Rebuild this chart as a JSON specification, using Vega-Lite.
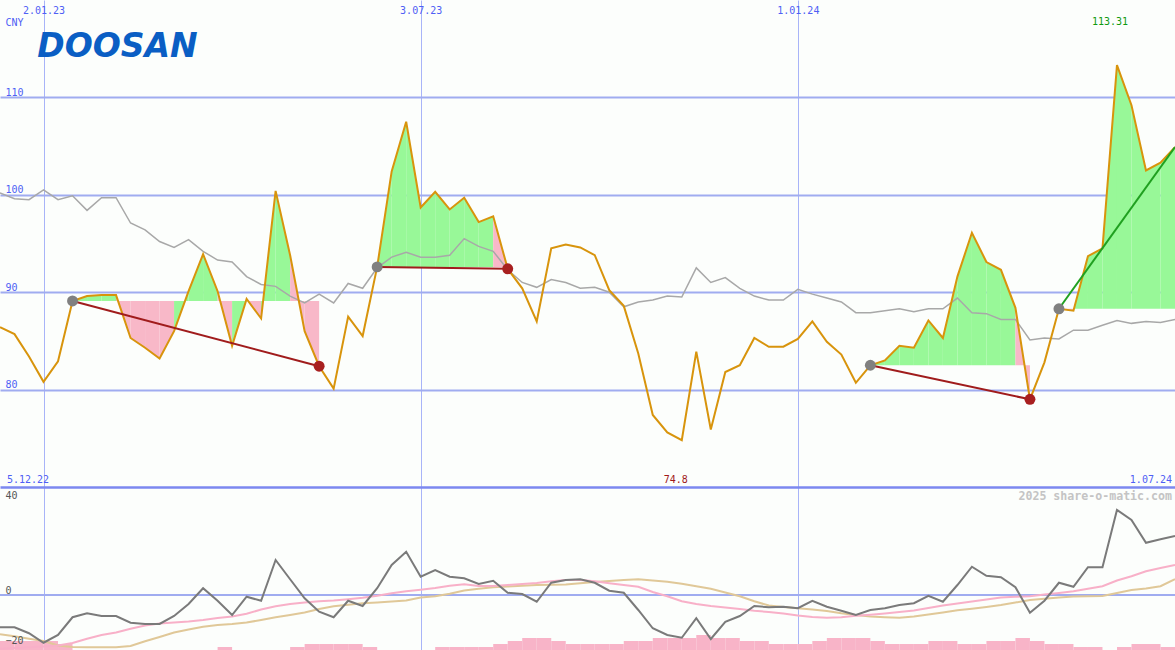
{
"$schema":"https://vega.github.io/schema/vega-lite/v6.json",
"padding":0,"spacing":0,"bounds":"flush","background":"#fcfefc",
"config":{"view":{"stroke":null}},
"data":{"format":{"parse":{"d":"date"}},"values":[
{"d":"2022-12-12","p":86.4,"m":100.2,"o":-12.9,"r":-21.5,"t":-15.7,"v":3},
{"d":"2022-12-19","p":85.7,"m":99.6,"o":-12.9,"r":-21.2,"t":-16.5,"v":3},
{"d":"2022-12-26","p":83.4,"m":99.5,"o":-15.3,"r":-20.9,"t":-17.5,"v":3},
{"d":"2023-01-02","p":80.8,"m":100.5,"o":-19.1,"r":-20.6,"t":-18.4,"v":3},
{"d":"2023-01-09","p":82.9,"m":99.5,"o":-16.0,"r":-20.2,"t":-20.2,"v":2},
{"d":"2023-01-16","p":89.1,"m":99.9,"o":-8.9,"r":-19.2,"t":-20.8,"v":0,"g":1,"b":89.1,"s":"start"},
{"d":"2023-01-23","p":89.6,"m":98.4,"o":-7.3,"r":-17.5,"t":-20.9,"v":0,"g":1,"b":89.1},
{"d":"2023-01-30","p":89.7,"m":99.7,"o":-8.4,"r":-16.0,"t":-20.9,"v":0,"g":1,"b":89.1},
{"d":"2023-02-06","p":89.7,"m":99.7,"o":-8.4,"r":-15.0,"t":-20.9,"v":0,"g":1,"b":89.1},
{"d":"2023-02-13","p":85.3,"m":97.1,"o":-11.1,"r":-13.5,"t":-20.4,"v":0,"g":1,"b":89.1},
{"d":"2023-02-20","p":84.3,"m":96.4,"o":-11.6,"r":-12.2,"t":-18.5,"v":0,"g":1,"b":89.1},
{"d":"2023-02-27","p":83.2,"m":95.2,"o":-11.6,"r":-11.4,"t":-16.8,"v":0,"g":1,"b":89.1},
{"d":"2023-03-06","p":86.0,"m":94.6,"o":-8.4,"r":-11.0,"t":-15.0,"v":0,"g":1,"b":89.1},
{"d":"2023-03-13","p":90.1,"m":95.4,"o":-3.6,"r":-10.6,"t":-13.8,"v":0,"g":1,"b":89.1},
{"d":"2023-03-20","p":93.9,"m":94.2,"o":2.7,"r":-10.0,"t":-12.7,"v":0,"g":1,"b":89.1},
{"d":"2023-03-27","p":90.1,"m":93.3,"o":-2.3,"r":-9.2,"t":-12.0,"v":1,"g":1,"b":89.1},
{"d":"2023-04-03","p":84.5,"m":93.1,"o":-8.0,"r":-8.6,"t":-11.6,"v":0,"g":1,"b":89.1},
{"d":"2023-04-10","p":89.3,"m":91.6,"o":-0.7,"r":-7.5,"t":-11.0,"v":0,"g":1,"b":89.1},
{"d":"2023-04-17","p":87.3,"m":90.8,"o":-2.3,"r":-5.8,"t":-10.0,"v":0,"g":1,"b":89.1},
{"d":"2023-04-24","p":100.4,"m":90.6,"o":14.0,"r":-4.5,"t":-8.9,"v":0,"g":1,"b":89.1},
{"d":"2023-05-01","p":93.8,"m":89.6,"o":6.3,"r":-3.6,"t":-8.0,"v":1,"g":1,"b":89.1},
{"d":"2023-05-08","p":86.0,"m":88.9,"o":-1.3,"r":-3.0,"t":-7.0,"v":2,"g":1,"b":89.1},
{"d":"2023-05-15","p":82.4,"m":89.8,"o":-6.7,"r":-2.5,"t":-5.6,"v":2,"g":1,"b":89.1,"s":"end"},
{"d":"2023-05-22","p":80.1,"m":88.9,"o":-8.9,"r":-2.2,"t":-4.5,"v":2},
{"d":"2023-05-29","p":87.5,"m":90.9,"o":-2.3,"r":-1.7,"t":-3.9,"v":2},
{"d":"2023-06-05","p":85.5,"m":90.4,"o":-4.4,"r":-1.1,"t":-3.3,"v":1},
{"d":"2023-06-12","p":92.6,"m":92.5,"o":2.7,"r":-0.3,"t":-3.0,"v":0,"g":2,"b":92.6,"s":"start"},
{"d":"2023-06-19","p":102.4,"m":93.6,"o":12.0,"r":0.7,"t":-2.6,"v":0,"g":2,"b":92.6},
{"d":"2023-06-26","p":107.5,"m":94.1,"o":17.3,"r":1.5,"t":-2.2,"v":0,"g":2,"b":92.6},
{"d":"2023-07-03","p":98.7,"m":93.6,"o":7.3,"r":2.1,"t":-1.0,"v":0,"g":2,"b":92.6},
{"d":"2023-07-10","p":100.3,"m":93.6,"o":10.0,"r":2.8,"t":-0.5,"v":1,"g":2,"b":92.6},
{"d":"2023-07-17","p":98.5,"m":93.8,"o":7.3,"r":3.7,"t":0.5,"v":1,"g":2,"b":92.6},
{"d":"2023-07-24","p":99.7,"m":95.5,"o":6.7,"r":4.3,"t":1.8,"v":1,"g":2,"b":92.6},
{"d":"2023-07-31","p":97.2,"m":94.7,"o":4.4,"r":3.6,"t":2.5,"v":1,"g":2,"b":92.6},
{"d":"2023-08-07","p":97.8,"m":94.2,"o":5.7,"r":3.6,"t":3.1,"v":2,"g":2,"b":92.6},
{"d":"2023-08-14","p":92.4,"m":92.3,"o":0.9,"r":4.0,"t":3.4,"v":3,"g":2,"b":92.6,"s":"end"},
{"d":"2023-08-21","p":90.4,"m":91.0,"o":0.4,"r":4.4,"t":3.7,"v":4},
{"d":"2023-08-28","p":87.0,"m":90.5,"o":-2.7,"r":4.8,"t":4.0,"v":4},
{"d":"2023-09-04","p":94.5,"m":91.3,"o":4.9,"r":5.5,"t":4.1,"v":3},
{"d":"2023-09-11","p":94.9,"m":91.0,"o":6.0,"r":6.0,"t":4.2,"v":2},
{"d":"2023-09-18","p":94.6,"m":90.4,"o":6.3,"r":6.0,"t":4.7,"v":2},
{"d":"2023-09-25","p":93.8,"m":90.5,"o":4.9,"r":5.5,"t":5.2,"v":2},
{"d":"2023-10-02","p":90.2,"m":90.0,"o":1.7,"r":4.7,"t":5.6,"v":2},
{"d":"2023-10-09","p":88.6,"m":88.5,"o":0.9,"r":4.0,"t":6.0,"v":3},
{"d":"2023-10-16","p":83.7,"m":89.0,"o":-6.0,"r":3.3,"t":6.3,"v":3},
{"d":"2023-10-23","p":77.4,"m":89.2,"o":-13.3,"r":1.2,"t":5.8,"v":4},
{"d":"2023-10-30","p":75.6,"m":89.6,"o":-16.0,"r":-0.5,"t":5.3,"v":4},
{"d":"2023-11-06","p":74.8,"m":89.5,"o":-17.1,"r":-2.5,"t":4.5,"v":4},
{"d":"2023-11-13","p":83.9,"m":92.5,"o":-9.3,"r":-3.6,"t":3.5,"v":5},
{"d":"2023-11-20","p":75.9,"m":91.0,"o":-17.6,"r":-4.4,"t":2.5,"v":4},
{"d":"2023-11-27","p":81.8,"m":91.5,"o":-10.7,"r":-5.0,"t":1.0,"v":4},
{"d":"2023-12-04","p":82.5,"m":90.4,"o":-8.4,"r":-5.6,"t":-0.5,"v":3},
{"d":"2023-12-11","p":85.3,"m":89.6,"o":-4.4,"r":-6.3,"t":-2.5,"v":3},
{"d":"2023-12-18","p":84.4,"m":89.2,"o":-4.9,"r":-6.8,"t":-4.2,"v":2},
{"d":"2023-12-25","p":84.4,"m":89.2,"o":-4.7,"r":-7.4,"t":-4.8,"v":2},
{"d":"2024-01-01","p":85.2,"m":90.3,"o":-5.3,"r":-8.2,"t":-5.3,"v":2},
{"d":"2024-01-08","p":87.0,"m":89.8,"o":-2.3,"r":-8.8,"t":-5.8,"v":3},
{"d":"2024-01-15","p":84.9,"m":89.4,"o":-4.7,"r":-9.1,"t":-6.4,"v":4},
{"d":"2024-01-22","p":83.6,"m":89.0,"o":-6.3,"r":-8.9,"t":-7.3,"v":4},
{"d":"2024-01-29","p":80.7,"m":87.9,"o":-8.0,"r":-8.3,"t":-8.0,"v":4},
{"d":"2024-02-05","p":82.5,"m":87.9,"o":-6.0,"r":-7.9,"t":-8.6,"v":3,"g":3,"b":82.5,"s":"start"},
{"d":"2024-02-12","p":83.0,"m":88.1,"o":-5.3,"r":-7.4,"t":-8.9,"v":2,"g":3,"b":82.5},
{"d":"2024-02-19","p":84.5,"m":88.3,"o":-4.0,"r":-6.8,"t":-9.1,"v":2,"g":3,"b":82.5},
{"d":"2024-02-26","p":84.3,"m":88.0,"o":-3.3,"r":-6.2,"t":-8.6,"v":2,"g":3,"b":82.5},
{"d":"2024-03-04","p":87.1,"m":88.3,"o":-0.3,"r":-5.2,"t":-7.8,"v":3,"g":3,"b":82.5},
{"d":"2024-03-11","p":85.3,"m":88.3,"o":-2.7,"r":-4.2,"t":-7.0,"v":3,"g":3,"b":82.5},
{"d":"2024-03-18","p":91.6,"m":89.4,"o":4.0,"r":-3.4,"t":-6.1,"v":2,"g":3,"b":82.5},
{"d":"2024-03-25","p":96.1,"m":87.9,"o":11.3,"r":-2.6,"t":-5.5,"v":2,"g":3,"b":82.5},
{"d":"2024-04-01","p":93.1,"m":87.8,"o":7.7,"r":-1.8,"t":-4.8,"v":3,"g":3,"b":82.5},
{"d":"2024-04-08","p":92.3,"m":87.2,"o":7.1,"r":-1.0,"t":-4.0,"v":3,"g":3,"b":82.5},
{"d":"2024-04-15","p":88.4,"m":87.2,"o":3.1,"r":-0.7,"t":-3.0,"v":4,"g":3,"b":82.5},
{"d":"2024-04-22","p":79.0,"m":85.1,"o":-7.1,"r":-0.5,"t":-2.0,"v":3,"g":3,"b":82.5,"s":"end"},
{"d":"2024-04-29","p":82.8,"m":85.3,"o":-2.3,"r":0.2,"t":-1.5,"v":2},
{"d":"2024-05-06","p":88.3,"m":85.2,"o":4.9,"r":0.8,"t":-1.0,"v":2,"g":4,"b":88.3,"s":"start"},
{"d":"2024-05-13","p":88.1,"m":86.1,"o":3.3,"r":1.5,"t":-0.6,"v":1,"g":4,"b":88.3},
{"d":"2024-05-20","p":93.7,"m":86.1,"o":11.1,"r":2.5,"t":-0.5,"v":1,"g":4,"b":88.3},
{"d":"2024-05-27","p":94.5,"m":86.6,"o":11.1,"r":3.5,"t":-0.4,"v":0,"g":4,"b":88.3},
{"d":"2024-06-03","p":113.31,"m":87.1,"o":34.0,"r":5.8,"t":0.8,"v":1,"g":4,"b":88.3},
{"d":"2024-06-10","p":109.2,"m":86.8,"o":30.0,"r":7.5,"t":2.0,"v":2,"g":4,"b":88.3},
{"d":"2024-06-17","p":102.5,"m":87.0,"o":20.9,"r":9.5,"t":2.6,"v":2,"g":4,"b":88.3},
{"d":"2024-06-24","p":103.3,"m":86.9,"o":22.3,"r":10.8,"t":3.5,"v":1,"g":4,"b":88.3},
{"d":"2024-07-01","p":104.9,"m":87.2,"o":23.6,"r":12.0,"t":6.3,"v":0,"g":4,"b":88.3,"s":"last"}
]},
"vconcat":[
{"width":1175,"height":487,
 "layer":[
  {"transform":[
    {"window":[{"op":"lag","field":"d","as":"d0"},{"op":"lag","field":"p","as":"p0"}],"sort":[{"field":"d"}]},
    {"filter":"isValid(datum.g) && datum.s !== 'start'"},
    {"fold":["d0","d"],"as":["kd","fx"]},
    {"fold":["p0","p"],"as":["kp","fy"]},
    {"filter":"(datum.kd === 'd0') === (datum.kp === 'p0')"}
   ],
   "mark":{"type":"area","clip":true,"opacity":1},
   "encoding":{
    "x":{"field":"fx","type":"temporal","title":null,
     "scale":{"type":"utc","domain":[{"year":2022,"month":12,"date":12,"utc":true},{"year":2024,"month":7,"date":1,"utc":true}]},
     "axis":{"orient":"top","title":null,"values":[{"year":2023,"month":1,"date":2,"utc":true},{"year":2023,"month":7,"date":3,"utc":true},{"year":2024,"month":1,"date":1,"utc":true}],"format":"%-d.%m.%y","grid":true,"gridColor":"#a8b4f8","gridWidth":1,"ticks":false,"tickSize":0,"domain":false,"labelPadding":-15,"labelBaseline":"bottom","labelColor":"#4f5ff5","labelFont":"DejaVu Sans Mono","labelFontSize":10,"labelOverlap":false,"labelFlush":false}},
    "y":{"field":"fy","type":"quantitative","title":"CNY",
     "scale":{"domain":[70,120],"zero":false,"nice":false},
     "axis":{"values":[80,90,100,110],"grid":true,"gridColor":"#a0acf0","gridWidth":2,"ticks":false,"tickSize":0,"domain":false,"labelAlign":"left","labelPadding":-5,"labelBaseline":"bottom","labelColor":"#4f5ff5","labelFont":"DejaVu Sans Mono","labelFontSize":10,"title":"CNY","titleAngle":0,"titleAlign":"left","titleBaseline":"bottom","titleX":5,"titleY":27,"titleColor":"#4f5ff5","titleFont":"DejaVu Sans Mono","titleFontSize":10,"titleFontWeight":"normal"}},
    "y2":{"field":"b"},
    "detail":{"field":"d","type":"temporal"},
    "color":{"condition":{"test":"datum.p >= datum.b","value":"#98f898"},"value":"#f8b8c8"}
   }},
  {"mark":{"type":"line","clip":true,"color":"#a8a8a8","strokeWidth":1.5},
   "encoding":{"x":{"field":"d","type":"temporal"},"y":{"field":"m","type":"quantitative"}}},
  {"mark":{"type":"line","clip":true,"color":"#d8940c","strokeWidth":2},
   "encoding":{"x":{"field":"d","type":"temporal"},"y":{"field":"p","type":"quantitative"}}},
  {"transform":[{"filter":"isValid(datum.s)"}],
   "mark":{"type":"line","clip":true,"strokeWidth":2},
   "encoding":{"x":{"field":"d","type":"temporal"},"y":{"field":"p","type":"quantitative"},"detail":{"field":"g","type":"nominal"},
    "color":{"condition":{"test":"datum.g === 4","value":"#20a020"},"value":"#a01c1c"}}},
  {"transform":[{"filter":"datum.s === 'start' || datum.s === 'end'"}],
   "mark":{"type":"circle","opacity":1,"size":120},
   "encoding":{"x":{"field":"d","type":"temporal"},"y":{"field":"p","type":"quantitative"},
    "color":{"condition":{"test":"datum.s === 'start'","value":"#808080"},"value":"#a82020"}}},
  {"transform":[{"joinaggregate":[{"op":"max","field":"p","as":"pm"}]},{"filter":"datum.p === datum.pm"}],
   "mark":{"type":"text","align":"center","baseline":"alphabetic","dx":-7,"font":"DejaVu Sans Mono","fontSize":10,"color":"#109a10"},
   "encoding":{"x":{"field":"d","type":"temporal"},"y":{"datum":117.4,"type":"quantitative"},"text":{"field":"p","type":"quantitative"}}},
  {"transform":[{"joinaggregate":[{"op":"min","field":"p","as":"pn"}]},{"filter":"datum.p === datum.pn"}],
   "mark":{"type":"text","align":"center","baseline":"alphabetic","dx":-6,"dy":-4.5,"font":"DejaVu Sans Mono","fontSize":10,"color":"#a01818"},
   "encoding":{"x":{"field":"d","type":"temporal"},"y":{"datum":70,"type":"quantitative"},"text":{"field":"p","type":"quantitative"}}},
  {"data":{"values":[{}]},
   "mark":{"type":"text","align":"left","baseline":"alphabetic","dx":7,"dy":-4.5,"font":"DejaVu Sans Mono","fontSize":10,"color":"#4f5ff5"},
   "encoding":{"x":{"datum":{"year":2022,"month":12,"date":12,"utc":true},"type":"temporal"},"y":{"datum":70,"type":"quantitative"},"text":{"value":"5.12.22"}}},
  {"data":{"values":[{}]},
   "mark":{"type":"text","align":"right","baseline":"alphabetic","dx":-3,"dy":-4.5,"font":"DejaVu Sans Mono","fontSize":10,"color":"#4f5ff5"},
   "encoding":{"x":{"datum":{"year":2024,"month":7,"date":1,"utc":true},"type":"temporal"},"y":{"datum":70,"type":"quantitative"},"text":{"value":"1.07.24"}}},
  {"data":{"values":[{}]},
   "mark":{"type":"text","align":"left","baseline":"alphabetic","font":"DejaVu Sans","fontWeight":"bold","fontStyle":"italic","fontSize":33,"color":"#0a5ec4"},
   "encoding":{"x":{"datum":{"year":2022,"month":12,"date":30,"utc":true},"type":"temporal"},"y":{"datum":114.15,"type":"quantitative"},"text":{"value":"DOOSAN"}}}
 ]},
{"width":1175,"height":163,
 "layer":[
  {"transform":[{"window":[{"op":"lead","field":"d","as":"d1"}],"sort":[{"field":"d"}]},{"filter":"datum.v > 0"}],
   "mark":{"type":"rect","color":"#f8b4c8","clip":true},
   "encoding":{
    "x":{"field":"d","type":"temporal","title":null,
     "scale":{"type":"utc","domain":[{"year":2022,"month":12,"date":12,"utc":true},{"year":2024,"month":7,"date":1,"utc":true}]},
     "axis":{"orient":"top","title":null,"values":[{"year":2023,"month":1,"date":2,"utc":true},{"year":2023,"month":7,"date":3,"utc":true},{"year":2024,"month":1,"date":1,"utc":true}],"grid":true,"gridColor":"#a8b4f8","gridWidth":1,"labels":false,"ticks":false,"tickSize":0,"domain":true,"domainColor":"#7c88f0","domainWidth":2.5}},
    "x2":{"field":"d1"},
    "y":{"field":"v","type":"quantitative","scale":{"domain":[0,54.33],"zero":false,"nice":false},"axis":null},
    "y2":{"datum":0}
   }},
  {"layer":[
    {"data":{"values":[{}]},
     "mark":{"type":"rule","color":"#a0acf0","strokeWidth":2,"clip":true},
     "encoding":{"y":{"datum":0,"type":"quantitative"}}},
    {"mark":{"type":"line","clip":true,"color":"#e0c898","strokeWidth":2},
     "encoding":{"x":{"field":"d","type":"temporal"},
      "y":{"field":"t","type":"quantitative","title":null,"scale":{"domain":[-22,43.2],"zero":false,"nice":false},
       "axis":{"values":[-20,0,40],"grid":false,"zindex":1,"ticks":false,"tickSize":0,"domain":false,"labelAlign":"left","labelPadding":-5,"labelBaseline":{"condition":{"test":"datum.value === 40","value":"middle"},"value":"bottom"},"labelColor":"#555555","labelFont":"DejaVu Sans Mono","labelFontSize":10,"title":null}}}},
    {"mark":{"type":"line","clip":true,"color":"#f8b0c8","strokeWidth":2},
     "encoding":{"x":{"field":"d","type":"temporal"},"y":{"field":"r","type":"quantitative"}}},
    {"mark":{"type":"line","clip":true,"color":"#7a7a7a","strokeWidth":2},
     "encoding":{"x":{"field":"d","type":"temporal"},"y":{"field":"o","type":"quantitative"}}},
    {"data":{"values":[{}]},
     "mark":{"type":"text","align":"right","baseline":"alphabetic","dx":-3,"dy":13,"font":"DejaVu Sans Mono","fontWeight":"bold","fontSize":11.6,"color":"#c4c4c4"},
     "encoding":{"x":{"datum":{"year":2024,"month":7,"date":1,"utc":true},"type":"temporal"},"y":{"datum":43.2,"type":"quantitative"},"text":{"value":"2025 share-o-matic.com"}}}
  ]}
 ],
 "resolve":{"scale":{"y":"independent"}}}
]
}
